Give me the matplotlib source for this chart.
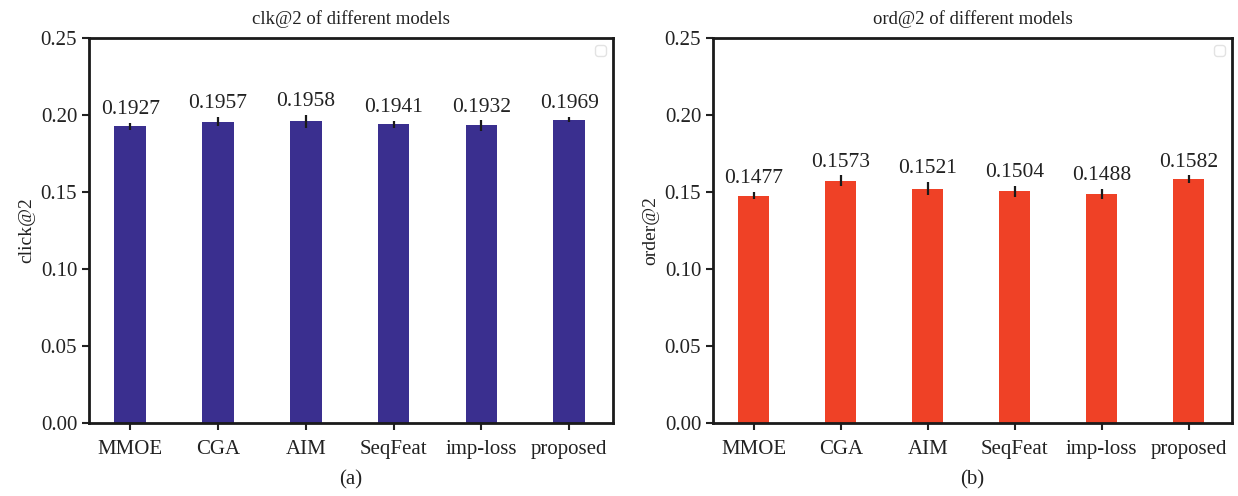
import matplotlib
matplotlib.use('Agg')
import matplotlib.pyplot as plt
import numpy as np

# Данные
models = ['MMOE', 'CGA', 'AIM', 'SeqFeat', 'imp-loss', 'proposed']
clk_values = [0.1927, 0.1957, 0.1958, 0.1941, 0.1932, 0.1969]
clk_errors = [0.0024, 0.0031, 0.0042, 0.0023, 0.0033, 0.0016]
ord_values = [0.1477, 0.1573, 0.1521, 0.1504, 0.1488, 0.1582]
ord_errors = [0.0024, 0.0035, 0.0043, 0.0037, 0.0032, 0.0026]

plt.rcParams['font.family'] = ['Liberation Serif', 'DejaVu Serif']

fig = plt.figure(figsize=(12.38, 4.96), dpi=100)

panels = [
    ([0.0719, 0.1472, 0.4233, 0.7762], clk_values, clk_errors, '#3a2f8f',
     'clk@2 of different models', 'click@2', '(a)'),
    ([0.5759, 0.1472, 0.4193, 0.7762], ord_values, ord_errors, '#ef4126',
     'ord@2 of different models', 'order@2', '(b)'),
]

x = np.arange(len(models))
for rect, vals, errs, color, title, ylabel, caption in panels:
    ax = fig.add_axes(rect)
    ax.bar(x, vals, width=0.36, color=color, yerr=errs,
           error_kw=dict(ecolor='#1a1a1a', elinewidth=1.6, capsize=0))
    for xi, v, e in zip(x, vals, errs):
        ax.text(xi, v + e + 0.0025, f'{v:.4f}', ha='center', va='bottom', fontsize=15.5, color='#222222')
    ax.set_xlim(-0.47, 5.5)
    ax.set_ylim(0, 0.25)
    ax.set_yticks([0, 0.05, 0.10, 0.15, 0.20, 0.25])
    ax.set_yticklabels(['0.00', '0.05', '0.10', '0.15', '0.20', '0.25'])
    ax.set_xticks(x)
    ax.set_xticklabels(models)
    ax.tick_params(axis='both', labelsize=15, width=1.5, length=5, direction='out', colors='#222222')
    ax.tick_params(axis='x', pad=7)
    for s in ax.spines.values():
        s.set_linewidth(2)
        s.set_color('#1a1a1a')
    ax.set_title(title, fontsize=13.5, pad=10, color='#222222')
    ax.set_ylabel(ylabel, fontsize=14, color='#222222')
    leg = ax.legend(handles=[], loc='upper right', frameon=True)
    leg.get_frame().set_edgecolor('#dddddd')
    fig.text(rect[0] + rect[2] / 2, 0.032, caption, ha='center', va='center', fontsize=15, color='#222222')

fig.savefig('out.png', dpi=100)
